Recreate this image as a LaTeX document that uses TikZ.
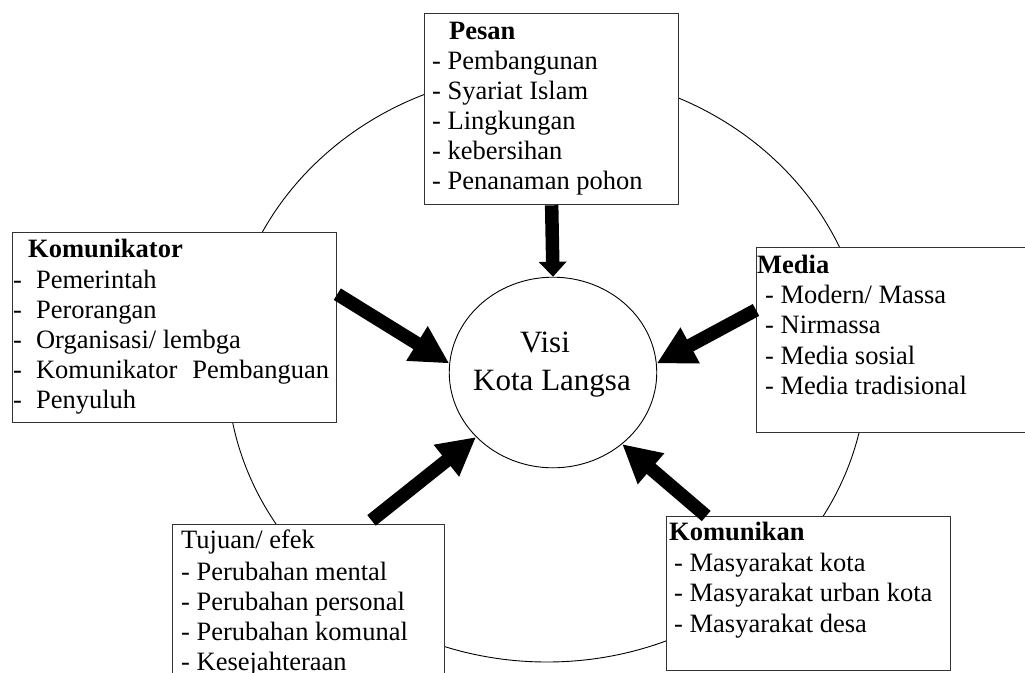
\documentclass[tikz,border=0pt]{standalone}
\usepackage{fontspec}
\setmainfont{Liberation Serif}
\usetikzlibrary{arrows.meta,calc,shapes.geometric}
\begin{document}
\begin{tikzpicture}[x=1pt,y=-1pt,
  box/.style={draw=black!80,line width=1.3pt,fill=white,rectangle,inner sep=0pt,anchor=north west},
  itemtxt/.style={anchor=base west,inner sep=0pt,font=\fontsize{26.5}{30}\selectfont},
  headtxt/.style={anchor=base west,inner sep=0pt,font=\fontsize{26.5}{30}\selectfont\bfseries},
  visitxt/.style={anchor=base,inner sep=0pt,font=\fontsize{31}{38}\selectfont},
  bigarrow/.style={line width=13.5pt,-{Triangle[length=38pt,width=38pt]}},
]
\clip (0,0) rectangle (1025,672);

% outer ring
\draw[line width=0.9pt] (547,367) ellipse [x radius=320, y radius=295];

% centre
\node[draw,ellipse,line width=0.9pt,inner sep=0pt,minimum width=207.5pt,minimum height=190.6pt] (visi) at (553,372.5) {};
\node[visitxt] (visi-a) at (545,352) {Visi};
\node[visitxt] (visi-b) at (552,390) {Kota Langsa};

% Pesan
\node[box,minimum width=254pt,minimum height=191pt] (pesan) at (424,13) {};
\node[headtxt] (pesan-h) at (449,39) {Pesan};
\foreach \t [count=\i from 0] in {Pembangunan,Syariat Islam,Lingkungan,kebersihan,Penanaman pohon}
  \node[itemtxt] (pesan-\i) at (432,69+30.2*\i) {- \t};

% Komunikator
\node[box,minimum width=324pt,minimum height=190pt] (kom) at (12,232) {};
\node[headtxt] (kom-h) at (28,257.5) {Komunikator};
\foreach \t [count=\i from 0] in {Pemerintah,Perorangan,Organisasi/ lembga,{Komunikator\hspace{15pt}Pembanguan},Penyuluh}
  \node[itemtxt] (kom-\i) at (13,288+30.1*\i) {-\hspace{14pt}\t};

% Media
\node[box,minimum width=272pt,minimum height=185pt] (media) at (756,247) {};
\node[headtxt] (media-h) at (757,273) {Media};
\foreach \t [count=\i from 0] in {Modern/ Massa,Nirmassa,Media sosial,Media tradisional}
  \node[itemtxt] (media-\i) at (765,303.3+30.4*\i) {- \t};

% Tujuan / efek
\node[box,minimum width=272pt,minimum height=175pt] (tuj) at (172,524) {};
\node[itemtxt] (tuj-h) at (181,548.5) {Tujuan/ efek};
\foreach \t [count=\i from 0] in {Perubahan mental,Perubahan personal,Perubahan komunal,Kesejahteraan}
  \node[itemtxt] (tuj-\i) at (181,580.5+30*\i) {- \t};

% Komunikan
\node[box,minimum width=284pt,minimum height=154pt] (kmn) at (666,516) {};
\node[headtxt] (kmn-h) at (669,540) {Komunikan};
\foreach \t [count=\i from 0] in {Masyarakat kota,Masyarakat urban kota,Masyarakat desa}
  \node[itemtxt] (kmn-\i) at (674,571.7+30.2*\i) {- \t};

% arrows towards the centre
\draw[line width=13.5pt,-{Triangle[length=15pt,width=27pt]}] (pesan.south) -- (visi.north);
\draw[bigarrow] ($(kom.north east)!0.325!(kom.south east)$) -- (visi.175);
\draw[bigarrow] ($(media.north west)!0.338!(media.south west)$) -- (visi.5);
\draw[bigarrow] ($(tuj.north west)!0.73!(tuj.north east)+(0,-3.6)$) -- (visi.220);
\draw[bigarrow] ($(kmn.north west)!0.141!(kmn.north east)$) -- (visi.314);
\end{tikzpicture}
\end{document}
